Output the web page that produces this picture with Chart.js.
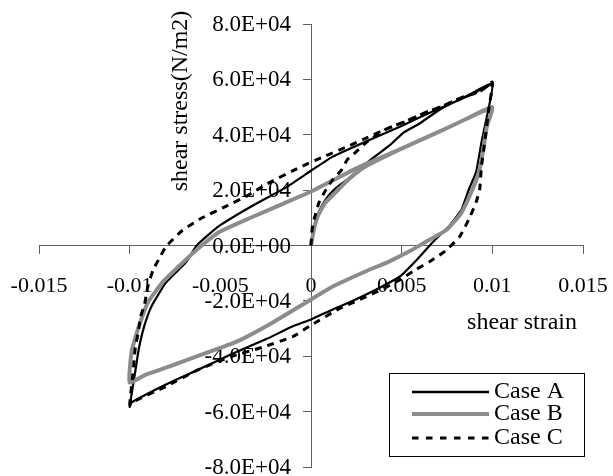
<!DOCTYPE html>
<html>
<head>
<meta charset="utf-8">
<script src="https://cdn.jsdelivr.net/npm/chart.js@4/dist/chart.umd.min.js"></script>
<style>
  html, body { margin: 0; padding: 0; background: #ffffff; }
  #wrap { width: 613px; height: 476px; position: relative; }
</style>
</head>
<body>
<div id="wrap"><canvas id="c" width="613" height="476"></canvas></div>
<script>
// ---- data ----
const seriesNames = ['Case A', 'Case B', 'Case C'];

const caseAStrain = [0, 0.00017, 0.00044, 0.00088, 0.0014, 0.002, 0.0033, 0.0044, 0.0051, 0.0059, 0.0072, 0.0086, 0.01,
  0.0097, 0.0094, 0.0091, 0.0087, 0.0083, 0.0076, 0.0067, 0.0058, 0.0049, 0.0036, 0.0021, 0.0012, 0, -0.001, -0.0025, -0.0044, -0.0062, -0.008, -0.0099, -0.01,
  -0.0097, -0.0095, -0.0092, -0.0088, -0.008, -0.0069, -0.0063, -0.0051, -0.0033, -0.0014, 0, 0.0012, 0.003, 0.0049, 0.0067, 0.0086, 0.01];
const caseAStress = [0, 6900, 12300, 17300, 20900, 23800, 31000, 36500, 40800, 43700, 49500, 54000, 58500,
  46600, 37200, 26400, 20200, 13000, 6900, 1100, -5400, -11200, -15900, -20600, -23100, -26700, -29200, -33900, -39300, -44800, -50200, -56700, -58300,
  -45900, -37500, -29200, -22000, -13400, -6100, 0, 6900, 14100, 20900, 27000, 32100, 37500, 42900, 48400, 53800, 58500];

const caseBStrain = [0, 0.00017, 0.0004, 0.0008, 0.0014, 0.0021, 0.003, 0.0049, 0.0071, 0.0085, 0.01,
  0.0097, 0.0095, 0.0093, 0.0089, 0.0083, 0.0075, 0.0063, 0.0054, 0.0043, 0.003, 0.0012, 0, -0.0023, -0.0041, -0.006, -0.0078, -0.0091, -0.01,
  -0.0099, -0.0096, -0.0093, -0.009, -0.0082, -0.0073, -0.0063, -0.0051, -0.0033, -0.0014, 0, 0.0027, 0.0049, 0.0071, 0.0085, 0.01];
const caseBStress = [0, 6000, 11000, 15500, 19500, 24000, 28500, 34700, 41200, 45500, 50000,
  43000, 34700, 27400, 20200, 11900, 5800, 1200, -2200, -5800, -9400, -14800, -19500, -28500, -34700, -39300, -43700, -46600, -49500,
  -38600, -31400, -25600, -20600, -13400, -7600, -1500, 4700, 10100, 15500, 19500, 28500, 34700, 41200, 45500, 50000];

const caseCStrain = [0, 0.00006, 0.00017, 0.00044, 0.00083, 0.0012, 0.0017, 0.002, 0.0025, 0.0031, 0.0041, 0.0052, 0.0063, 0.0072, 0.0083, 0.0093, 0.01,
  0.0098, 0.0096, 0.0094, 0.0093, 0.0091, 0.0087, 0.0082, 0.0074, 0.0066, 0.0057, 0.0048, 0.0037, 0.0026, 0.0015, 0, -0.001, -0.0027, -0.0044, -0.0062, -0.008, -0.0099, -0.01,
  -0.0098, -0.0097, -0.0095, -0.0094, -0.0092, -0.009, -0.0087, -0.0084, -0.008, -0.0071, -0.006, -0.0047, -0.0035, -0.0025, -0.0006, 0.0006, 0.002, 0.0031, 0.0041, 0.0052, 0.0063, 0.0072, 0.0083, 0.0093, 0.01];
const caseCStress = [0, 5800, 9400, 15500, 20200, 23800, 27400, 31000, 33900, 37500, 41900, 44800, 48000, 50200, 53400, 55600, 59000,
  49100, 38300, 28500, 20200, 15500, 9400, 3200, -2000, -5600, -9000, -12800, -16500, -19800, -23000, -28800, -32900, -36800, -40100, -44800, -50900, -56700, -57500,
  -45000, -37500, -30300, -25600, -22000, -14800, -8700, -5100, -400, 5400, 10000, 14100, 18000, 22000, 28300, 31800, 35700, 39000, 41900, 44800, 48000, 50200, 53400, 55600, 59000];

const xTickLabels = ['-0.015', '-0.01', '-0.005', '0', '0.005', '0.01', '0.015'];
const yTickLabels = ['-8.0E+04', '-6.0E+04', '-4.0E+04', '-2.0E+04', '0.0E+00', '2.0E+04', '4.0E+04', '6.0E+04', '8.0E+04'];
const xTitle = 'shear strain';
const yTitle = 'shear stress(N/m2)';

// ---- build ----
function pts(xs, ys) { return xs.map((x, i) => ({ x: x, y: ys[i] })); }

const FONT = "'Liberation Serif', 'Times New Roman', serif";
const AXIS_COLOR = '#606060';

const datasets = [
  { label: seriesNames[0], data: pts(caseAStrain, caseAStress), borderColor: '#000000', borderWidth: 2.2, borderDash: [], order: 3 },
  { label: seriesNames[1], data: pts(caseBStrain, caseBStress), borderColor: '#8c8c8c', borderWidth: 4, borderDash: [], order: 2 },
  { label: seriesNames[2], data: pts(caseCStrain, caseCStress), borderColor: '#000000', borderWidth: 3, borderDash: [7, 6], order: 1 }
].map(d => Object.assign(d, {
  showLine: true, pointRadius: 0, pointHoverRadius: 0, fill: false,
  tension: 0.15, borderJoinStyle: 'round', borderCapStyle: 'butt', backgroundColor: d.borderColor
}));

function zeroPad(scale) {
  scale.paddingLeft = 0; scale.paddingRight = 0; scale.paddingTop = 0; scale.paddingBottom = 0;
}

const overlay = {
  id: 'overlay',
  beforeDraw(chart) {
    // place the y tick labels to the left of the centred axis, outside the tick marks
    const ys = chart.scales.y, xs = chart.scales.x;
    const items = ys.getLabelItems(chart.chartArea);
    if (!items._shifted) {
      const axX = xs.getPixelForValue(0);
      items.forEach(it => {
        it.options.translation[0] = axX - 20;
        it.options.textAlign = 'right';
        it.options.translation[1] += 1;
      });
      items._shifted = true;
    }
  },
  afterDraw(chart) {
    const ctx = chart.ctx;
    const ys = chart.scales.y, xs = chart.scales.x;
    const axX = xs.getPixelForValue(0);
    const axY = ys.getPixelForValue(0);
    ctx.save();
    ctx.fillStyle = '#000';
    ctx.font = '24px ' + FONT;
    // y title (rotated)
    ctx.save();
    ctx.translate(axX - 124, ys.top + 77);
    ctx.rotate(-Math.PI / 2);
    ctx.textAlign = 'center';
    ctx.textBaseline = 'alphabetic';
    ctx.fillText(yTitle, 0, 0);
    ctx.restore();
    // x title
    ctx.textAlign = 'right';
    ctx.textBaseline = 'alphabetic';
    ctx.fillText(xTitle, xs.right - 6, axY + 83);

    // legend
    const bx = 389.5, by = 373.5, bw = 195, bh = 83;
    ctx.fillStyle = '#fff';
    ctx.fillRect(bx, by, bw, bh);
    ctx.strokeStyle = '#000';
    ctx.lineWidth = 1;
    ctx.strokeRect(bx, by, bw, bh);
    const rows = [392, 414, 438];
    chart.data.datasets.forEach((d, i) => {
      ctx.save();
      ctx.strokeStyle = d.borderColor;
      ctx.lineWidth = i === 1 ? 4 : (i === 2 ? 3 : 2.5);
      ctx.setLineDash(i === 2 ? [6.5, 7.5] : []);
      ctx.beginPath();
      ctx.moveTo(412, rows[i]);
      ctx.lineTo(489, rows[i]);
      ctx.stroke();
      ctx.restore();
      ctx.fillStyle = '#000';
      ctx.textAlign = 'left';
      ctx.textBaseline = 'middle';
      ctx.font = '24px ' + FONT;
      ctx.fillText(d.label, 494, rows[i]);
    });
    ctx.restore();
  }
};

new Chart(document.getElementById('c'), {
  type: 'scatter',
  data: { datasets: datasets },
  options: {
    responsive: false,
    animation: false,
    devicePixelRatio: 1,
    layout: { padding: { left: 39, right: 30, top: 24, bottom: 9 } },
    plugins: { legend: { display: false }, tooltip: { enabled: false } },
    scales: {
      x: {
        type: 'linear', min: -0.015, max: 0.015,
        position: { y: 0 },
        afterFit: zeroPad,
        ticks: {
          stepSize: 0.005, autoSkip: false, maxRotation: 0, padding: 20,
          color: '#000', font: { family: FONT, size: 22 },
          callback: (v, i) => xTickLabels[i]
        },
        grid: { drawOnChartArea: false, drawTicks: true, tickLength: 8, color: AXIS_COLOR, lineWidth: 1 },
        border: { display: true, color: AXIS_COLOR, width: 1 }
      },
      y: {
        type: 'linear', min: -80000, max: 80000,
        position: { x: 0 },
        afterFit: zeroPad,
        ticks: {
          stepSize: 20000, autoSkip: false, padding: 12,
          color: '#000', font: { family: FONT, size: 23 },
          callback: (v, i) => yTickLabels[i]
        },
        grid: { drawOnChartArea: false, drawTicks: true, tickLength: 8, color: AXIS_COLOR, lineWidth: 1 },
        border: { display: true, color: AXIS_COLOR, width: 1 }
      }
    }
  },
  plugins: [overlay]
});
</script>
</body>
</html>
